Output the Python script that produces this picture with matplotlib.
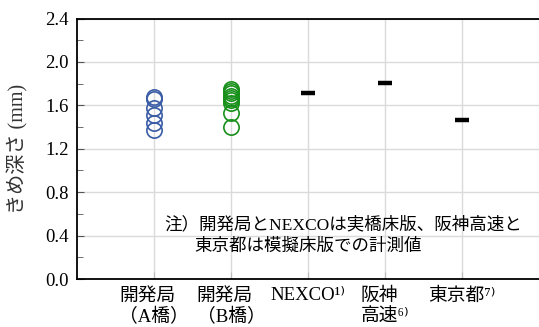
import matplotlib
matplotlib.use("Agg")
import matplotlib.pyplot as plt
from matplotlib.ticker import MultipleLocator

plt.rcParams['font.family'] = ['Liberation Serif', 'Noto Sans CJK JP', 'DejaVu Sans']

categories = ["開発局\n（A橋）", "開発局\n（B橋）", "NEXCO¹⁾", "阪神\n高速⁶⁾", "東京都⁷⁾"]
blue_vals = [1.675, 1.66, 1.58, 1.51, 1.44, 1.37]
green_vals = [1.75, 1.73, 1.71, 1.69, 1.67, 1.65, 1.62, 1.53, 1.40]
dash_cats = [2, 3, 4]
dash_vals = [1.714, 1.803, 1.462]
yticks = [0.0, 0.4, 0.8, 1.2, 1.6, 2.0, 2.4]
note_line1 = "注）開発局とNEXCOは実橋床版、阪神高速と"
note_line2 = "東京都は模擬床版での計測値"

fig = plt.figure(figsize=(5.39, 3.27), dpi=100)
ax = fig.add_axes([77/539, 48/327, 462/539, 260.5/327])

ax.plot([0]*len(blue_vals), blue_vals, 'o', ms=11, mfc='none', mec='#3a5ca6', mew=1.2, zorder=3)
ax.plot([1]*len(green_vals), green_vals, 'o', ms=11, mfc='none', mec='#17901a', mew=1.2, zorder=3)
ax.plot(dash_cats, dash_vals, '_', ms=10.5, mew=3.2, color='black', zorder=3)

ax.set_xlim(-1, 5)
ax.set_ylim(0, 2.4)
ax.set_yticks(yticks)
ax.set_yticklabels([f"{v:.1f}" for v in yticks], fontsize=13.5)
ax.yaxis.set_minor_locator(MultipleLocator(0.2))
ax.set_xticks(range(len(categories)))
ax.set_xticklabels(categories, fontsize=13.5, linespacing=1.3)
for lab in ax.get_xticklabels():
    lab.set_multialignment('left')

ax.grid(True, color='#dadada', lw=1.0, zorder=0)
ax.set_axisbelow(True)
ax.tick_params(axis='both', which='both', direction='in', color='#555555')
ax.tick_params(axis='y', which='major', length=5, pad=6)
ax.tick_params(axis='y', which='minor', length=4)
ax.tick_params(axis='x', which='major', length=5, pad=6, color='#bbbbbb')

for s in ['left', 'bottom', 'top']:
    ax.spines[s].set_linewidth(1.3)
    ax.spines[s].set_color('black')
ax.spines['right'].set_visible(False)

ax.set_ylabel("きめ深さ (mm)", fontsize=14.5, color='#333333')
ax.yaxis.set_label_coords(-0.105, 0.5)

ax.text(0.19, 0.207, note_line1, transform=ax.transAxes, fontsize=12.6, va='center', ha='left')
ax.text(0.255, 0.123, note_line2, transform=ax.transAxes, fontsize=12.6, va='center', ha='left')

fig.savefig("out.png", dpi=100)
